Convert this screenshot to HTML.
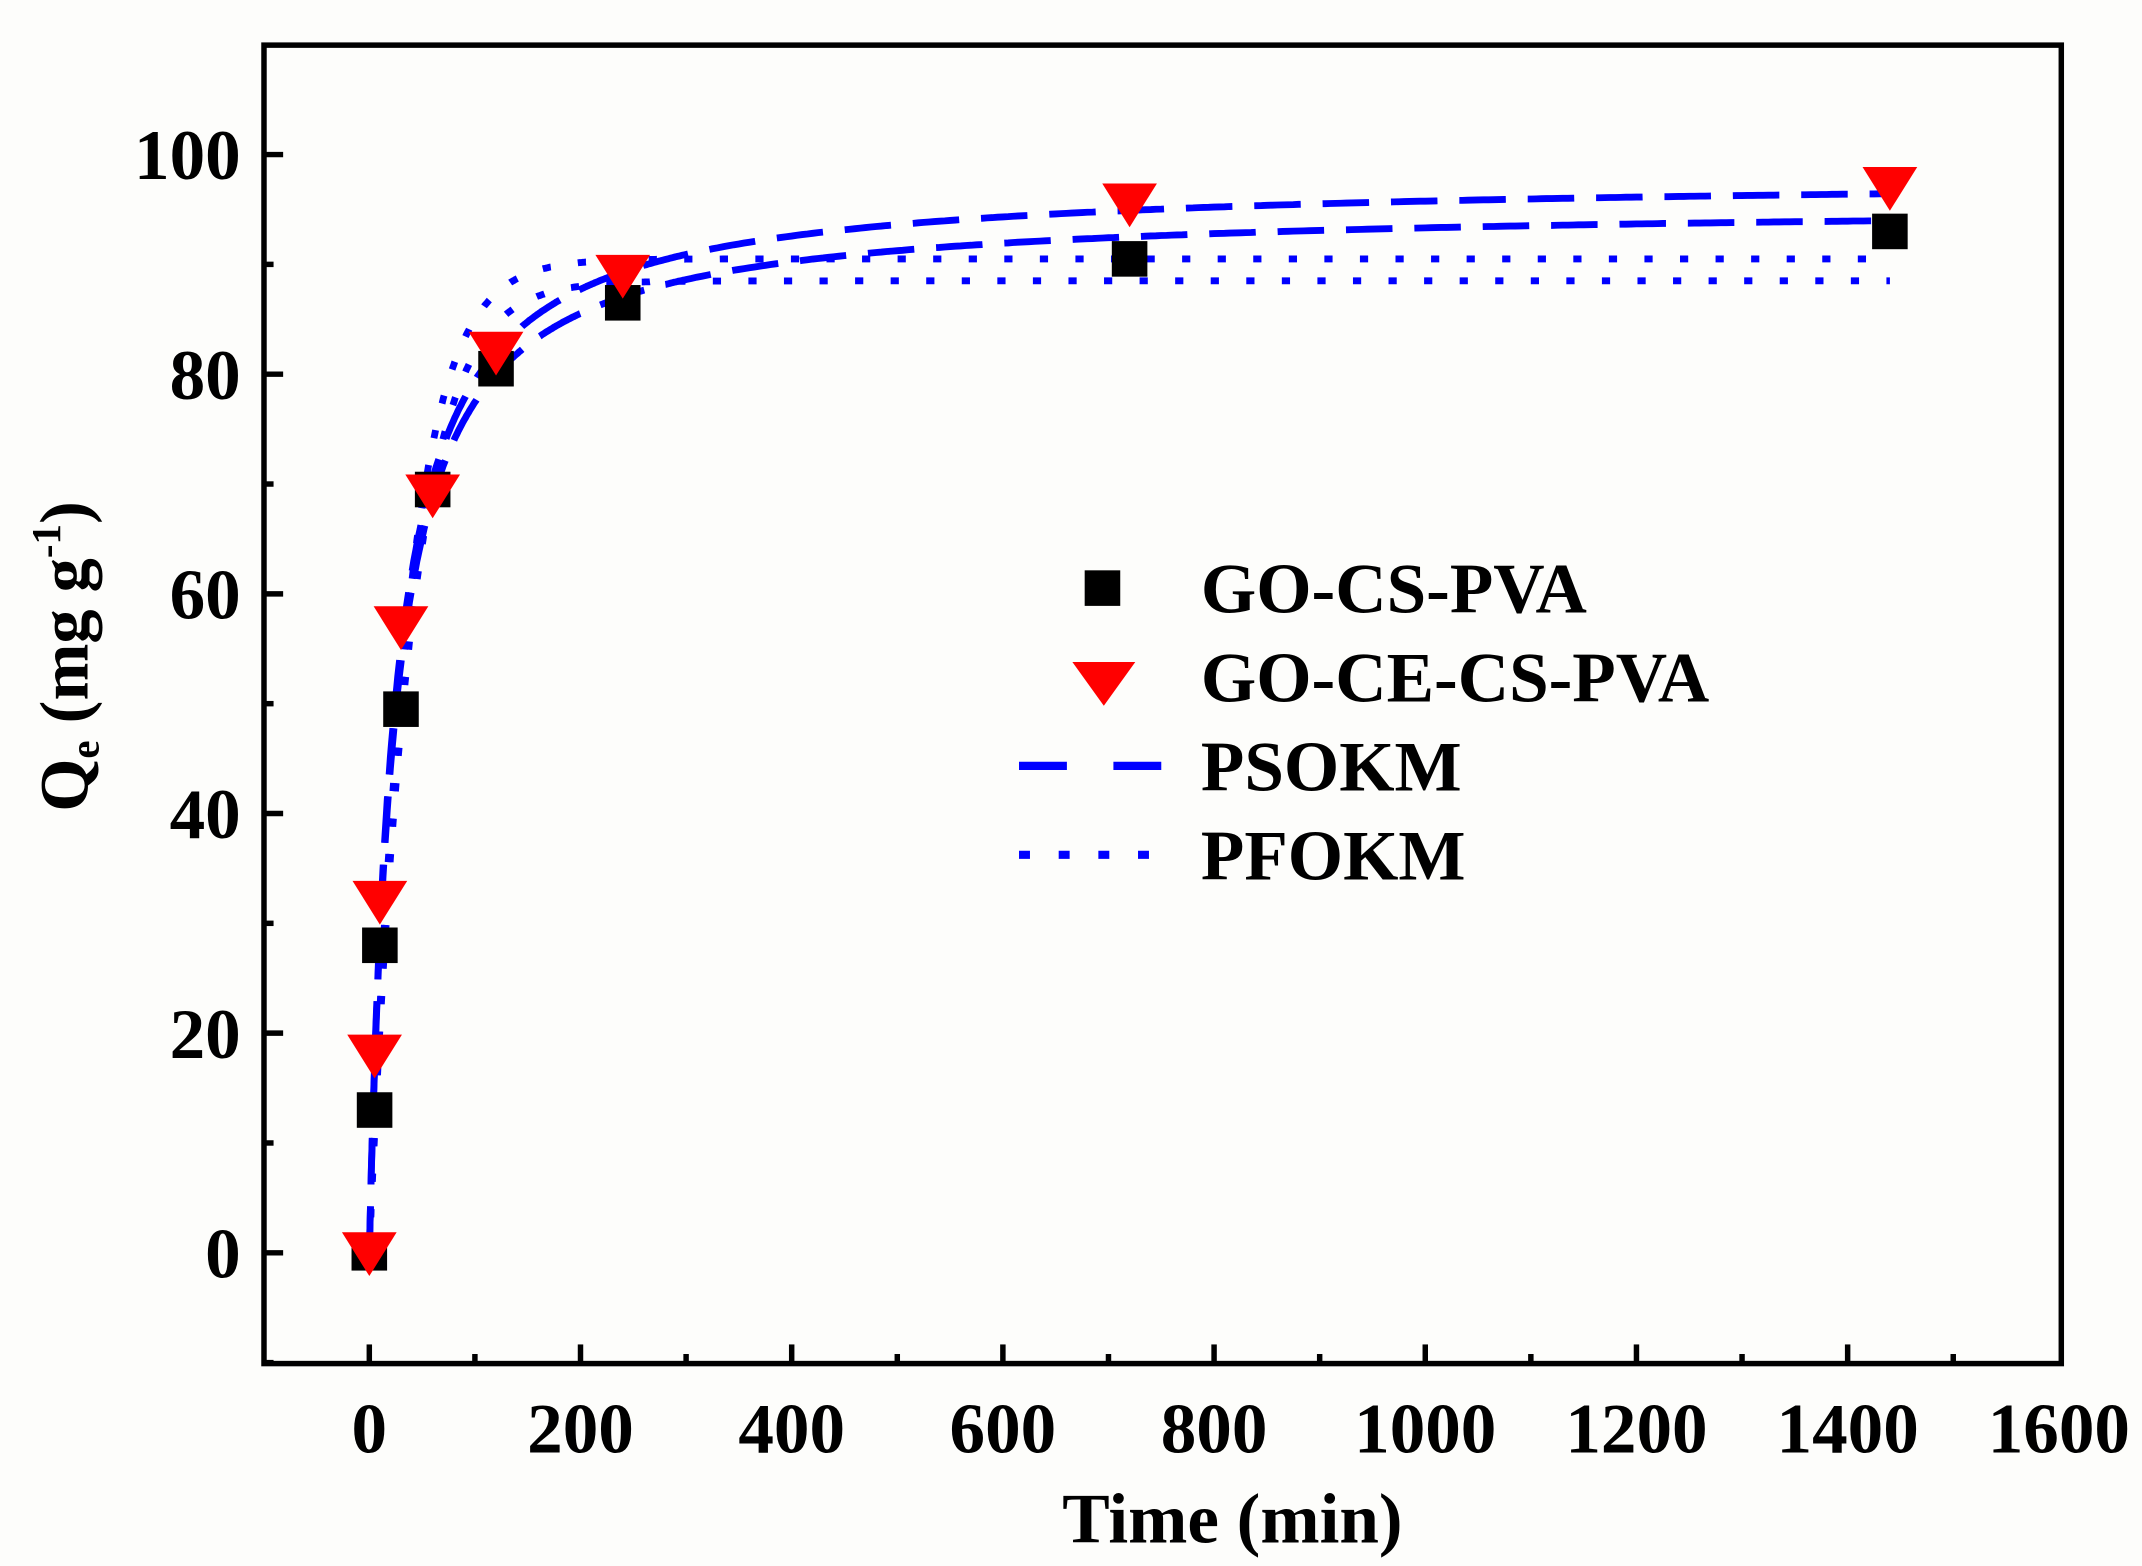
<!DOCTYPE html>
<html><head><meta charset="utf-8"><style>
html,body{margin:0;padding:0;background:#fdfdfb;}
svg{display:block}
text{font-family:"Liberation Serif",serif;font-weight:bold;fill:#000}
</style></head><body>
<svg id="s" width="2142" height="1566" viewBox="0 0 1566 1145" preserveAspectRatio="none" xmlns="http://www.w3.org/2000/svg">
<rect x="0" y="0" width="1566" height="1145" fill="#fdfdfb"/>
<g id="ticks" stroke="#000" stroke-width="4"></g>
<rect x="193" y="33" width="1314" height="964" fill="none" stroke="#000" stroke-width="4"/>
<g id="labels" font-size="52"></g>
<text x="901" y="1128" font-size="52" text-anchor="middle">Time (min)</text>
<text transform="translate(64,480) rotate(-90)" font-size="50" text-anchor="middle">Q<tspan font-size="30" dy="8">e</tspan><tspan dy="-8"> (mg g</tspan><tspan font-size="30" dy="-20">-1</tspan><tspan dy="20">)</tspan></text>
<g id="curves" fill="none" stroke="#0000ff" stroke-width="5"></g>
<g id="pts"></g>
<g>
<rect x="793" y="417" width="26" height="26" fill="#000"/>
<text x="878" y="448" font-size="52">GO-CS-PVA</text>
<polygon points="784,484 830,484 807,516" fill="#ff0000"/>
<text x="878" y="513" font-size="52">GO-CE-CS-PVA</text>
<line x1="745" y1="560" x2="850" y2="560" stroke="#0000ff" stroke-width="6" stroke-dasharray="35 34"/>
<text x="878" y="578" font-size="52">PSOKM</text>
<line x1="745" y1="625" x2="850" y2="625" stroke="#0000ff" stroke-width="6" stroke-dasharray="8 21"/>
<text x="878" y="643" font-size="52">PFOKM</text>
</g>
</svg>
<script>
var NS="http://www.w3.org/2000/svg";
function X(t){return 270+t*0.772;}function Y(q){return 916-q*8.03;}
function el(p,n,a){var e=document.createElementNS(NS,n);for(var k in a)e.setAttribute(k,a[k]);p.appendChild(e);return e;}
var tk=document.getElementById('ticks'),lb=document.getElementById('labels');
for(var t=0;t<=1500;t+=100){var mj=t%200==0;el(tk,'line',{x1:X(t),x2:X(t),y1:997,y2:997-(mj?14:7)});}
for(var t=0;t<=1600;t+=200){var e=el(lb,'text',{x:X(t),y:1062,'text-anchor':'middle'});e.textContent=t;}
for(var q=-10;q<=100;q+=10){var mj=q%20==0;el(tk,'line',{x1:193,x2:193+(mj?14:7),y1:Y(q),y2:Y(q)});}
for(var q=0;q<=100;q+=20){var e=el(lb,'text',{x:176,y:Y(q)+18,'text-anchor':'end'});e.textContent=q;}
var cv=document.getElementById('curves');
function path(f){var d='';for(var t=0;t<=1440;t+=(t<300?1:5)){d+=(d?'L':'M')+X(t).toFixed(1)+','+Y(f(t)).toFixed(1);}return d;}
el(cv,'path',{d:path(function(t){return 98*t/(t+23.4)}),'stroke-dasharray':'34 16'});
el(cv,'path',{d:path(function(t){return 95.5*t/(t+23.3)}),'stroke-dasharray':'34 16'});
el(cv,'path',{d:path(function(t){return 88.5*(1-Math.exp(-0.026*t))}),'stroke-dasharray':'6 20'});
el(cv,'path',{d:path(function(t){return 90.5*(1-Math.exp(-0.028*t))}),'stroke-dasharray':'6 20'});
var pts=document.getElementById('pts');
var sq=[[0,0],[5,13],[10,28],[30,49.5],[60,69.5],[120,80.5],[240,86.5],[720,90.5],[1440,93]];
var tr=[[0,0],[5,18],[10,32],[30,57],[60,69],[120,82],[240,89],[720,95.5],[1440,97]];
sq.forEach(function(p){el(pts,'rect',{x:X(p[0])-13,y:Y(p[1])-13,width:26,height:26,fill:'#000'});});
tr.forEach(function(p){var x=X(p[0]),y=Y(p[1]);el(pts,'polygon',{points:(x-20)+','+(y-15)+' '+(x+20)+','+(y-15)+' '+x+','+(y+17),fill:'#ff0000'});});
</script>
</body></html>
